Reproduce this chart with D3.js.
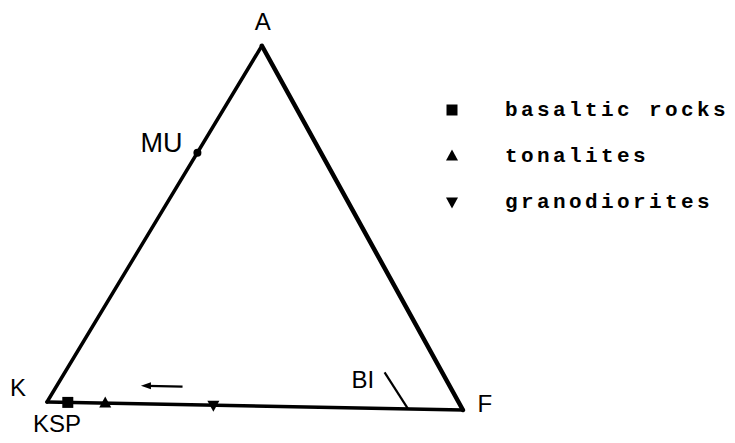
<!DOCTYPE html>
<html lang="en">
<head>
    <meta charset="UTF-8">
    <title>AKF diagram</title>
    <style>
        body { margin: 0; background: #fff; }
        svg { display: block; }
        .vlabel { font-family: "Liberation Sans", Arial, sans-serif; font-size: 24px; fill: #000; }
        .legend text { font-family: "Liberation Mono", "Courier New", monospace; font-size: 21px; font-weight: bold; letter-spacing: 3.4px; fill: #000; }
    </style>
</head>
<body>
    <svg id="chart" width="735" height="443"></svg>

    <script src="https://d3js.org/d3.v7.min.js"></script>
    <script>
        // corners of the AKF triangle, as ternary fractions (a, k, f)
        const vertices = [
            { name: "A", a: 1, k: 0, f: 0 },
            { name: "K", a: 0, k: 1, f: 0 },
            { name: "F", a: 0, k: 0, f: 1 }
        ];
        const edgeWidths = [3.5, 3.5, 4.5];   // A-K, K-F, F-A

        // mineral points
        const minerals = [
            { name: "MU", a: 0.70, k: 0.30, f: 0 },
            { name: "KSP", a: 0, k: 1, f: 0 }
        ];
        // biotite tie line: from the K-F side up into the triangle
        const biotite = [
            { a: 0, k: 0.132, f: 0.868 },
            { a: 0.10, k: 0.14, f: 0.76 }
        ];

        // samples (all plot on the K-F side)
        const categories = ["basaltic rocks", "tonalites", "granodiorites"];
        const symbols = ["square", "up", "down"];
        const samples = [
            { type: "basaltic rocks", a: 0, k: 0.95, f: 0.05 },
            { type: "tonalites", a: 0, k: 0.86, f: 0.14 },
            { type: "granodiorites", a: 0, k: 0.60, f: 0.40 }
        ];
        // trend arrow, pointing towards K
        const arrow = [
            { a: 0.05, k: 0.65, f: 0.30 },
            { a: 0.05, k: 0.75, f: 0.20 }
        ];

        const svg = d3.select("#chart");

        // ternary -> cartesian, then pixel scales
        const x = d3.scaleLinear().domain([0, 1]).range([47, 463]);
        const y = d3.scaleLinear().domain([0, Math.sqrt(3) / 2]).range([402, 41.7]);
        const tilt = 1.1 * Math.PI / 180; // scan is slightly rotated
        const ox = x(0), oy = y(0);

        function project(p) {
            const tot = p.a + p.k + p.f;
            const cx = (p.f + p.a / 2) / tot;
            const cy = (p.a * Math.sqrt(3) / 2) / tot;
            const dx = x(cx) - ox, dy = y(cy) - oy;
            return [ox + dx * Math.cos(tilt) - dy * Math.sin(tilt),
                    oy + dx * Math.sin(tilt) + dy * Math.cos(tilt)];
        }

        // edges
        const edges = vertices.map((v, i) => [v, vertices[(i + 1) % 3]]);
        svg.selectAll(".edge")
            .data(edges)
            .enter()
            .append("line")
            .attr("class", "edge")
            .attr("x1", d => project(d[0])[0])
            .attr("y1", d => project(d[0])[1])
            .attr("x2", d => project(d[1])[0])
            .attr("y2", d => project(d[1])[1])
            .attr("stroke", "#000")
            .attr("stroke-linecap", "round")
            .attr("stroke-width", (d, i) => edgeWidths[i]);

        // vertex labels
        const vOffset = { A: [1, -16], K: [-29, -6], F: [22, 2] };
        svg.selectAll(".vlabel-v")
            .data(vertices)
            .enter()
            .append("text")
            .attr("class", "vlabel")
            .attr("x", d => project(d)[0] + vOffset[d.name][0])
            .attr("y", d => project(d)[1] + vOffset[d.name][1])
            .attr("text-anchor", "middle")
            .text(d => d.name);

        // biotite line
        svg.append("line")
            .attr("x1", project(biotite[0])[0])
            .attr("y1", project(biotite[0])[1])
            .attr("x2", project(biotite[1])[0])
            .attr("y2", project(biotite[1])[1])
            .attr("stroke", "#000")
            .attr("stroke-width", 2.2);
        svg.append("text")
            .attr("class", "vlabel")
            .attr("x", project(biotite[1])[0] - 33)
            .attr("y", project(biotite[1])[1] + 16)
            .text("BI");

        // mineral points and labels
        svg.selectAll(".mineral")
            .data(minerals.filter(d => d.name === "MU"))
            .enter()
            .append("circle")
            .attr("cx", d => project(d)[0])
            .attr("cy", d => project(d)[1])
            .attr("r", 4)
            .attr("fill", "#000");
        const mOffset = { MU: [-57, -1], KSP: [-14, 30] };
        svg.selectAll(".mlabel")
            .data(minerals)
            .enter()
            .append("text")
            .attr("class", "vlabel")
            .attr("x", d => project(d)[0] + mOffset[d.name][0])
            .attr("y", d => project(d)[1] + mOffset[d.name][1])
            .style("font-size", d => d.name === "MU" ? "27px" : null)
            .text(d => d.name);

        // arrow
        svg.append("line")
            .attr("x1", project(arrow[0])[0])
            .attr("y1", project(arrow[0])[1])
            .attr("x2", project(arrow[1])[0] + 6)
            .attr("y2", project(arrow[1])[1])
            .attr("stroke", "#000")
            .attr("stroke-width", 2.2);
        const tip = project(arrow[1]);
        svg.append("path")
            .attr("d", `M${tip[0]},${tip[1]} l10,-3.5 l0,7 Z`)
            .attr("fill", "#000");

        // symbols
        const symScale = d3.scaleOrdinal().domain(categories).range(symbols);
        function symbolPath(kind) {
            if (kind === "square") return "M-5.5,-5.5h11v11h-11Z";
            if (kind === "up") return "M0,-6.5L6,4.5H-6Z";
            return "M0,6.5L6,-4.5H-6Z";
        }
        svg.selectAll(".sample")
            .data(samples)
            .enter()
            .append("path")
            .attr("class", "sample")
            .attr("transform", d => {
                const p = project(d);
                return `translate(${p[0]},${p[1]})`;
            })
            .attr("d", d => symbolPath(symScale(d.type)))
            .attr("fill", "#000");

        // legend
        const legendY = d3.scalePoint().domain(categories).range([110, 202]);
        const legend = svg.append("g").attr("class", "legend");
        legend.selectAll("path")
            .data(categories)
            .enter()
            .append("path")
            .attr("transform", d => `translate(452,${legendY(d)})`)
            .attr("d", d => symbolPath(symScale(d)))
            .attr("fill", "#000");
        legend.selectAll("text")
            .data(categories)
            .enter()
            .append("text")
            .attr("x", 505)
            .attr("y", d => legendY(d) + 6)
            .text(d => d);
    </script>
</body>
</html>
